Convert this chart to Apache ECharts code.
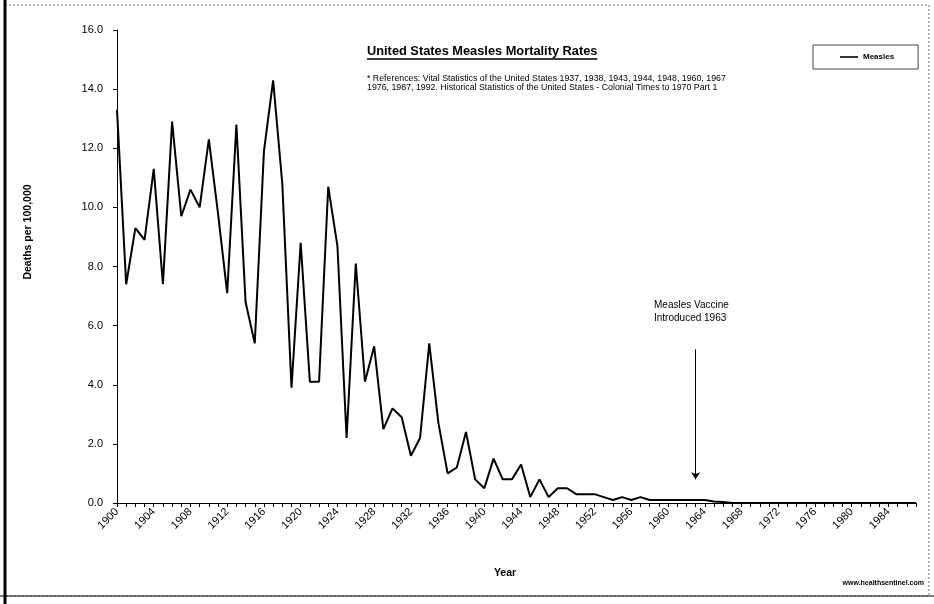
<!DOCTYPE html>
<html><head><meta charset="utf-8">
<script src="https://cdn.jsdelivr.net/npm/echarts@6/dist/echarts.min.js"></script>
<style>html,body{margin:0;padding:0;background:#fff}#c{width:934px;height:604px}</style>
</head><body><div id="c"></div>
<script>
const years = ['1900','1901','1902','1903','1904','1905','1906','1907','1908','1909',
'1910','1911','1912','1913','1914','1915','1916','1917','1918','1919',
'1920','1921','1922','1923','1924','1925','1926','1927','1928','1929',
'1930','1931','1932','1933','1934','1935','1936','1937','1938','1939',
'1940','1941','1942','1943','1944','1945','1946','1947','1948','1949',
'1950','1951','1952','1953','1954','1955','1956','1957','1958','1959',
'1960','1961','1962','1963','1964','1965','1966','1967','1968','1969',
'1970','1971','1972','1973','1974','1975','1976','1977','1978','1979',
'1980','1981','1982','1983','1984','1985','1986','1987'];
const measles = [13.3,7.4,9.3,8.9,11.3,7.4,12.9,9.7,10.6,10.0,
12.3,9.8,7.1,12.8,6.8,5.4,11.9,14.3,10.8,3.9,
8.8,4.1,4.1,10.7,8.7,2.2,8.1,4.1,5.3,2.5,
3.2,2.9,1.6,2.2,5.4,2.7,1.0,1.2,2.4,0.8,
0.5,1.5,0.8,0.8,1.3,0.2,0.8,0.2,0.5,0.5,
0.3,0.3,0.3,0.2,0.1,0.2,0.1,0.2,0.1,0.1,
0.1,0.1,0.1,0.1,0.1,0.05,0.03,0,0,0,
0,0,0,0,0,0,0,0,0,0,
0,0,0,0,0,0,0,0];
const yTicks = [0,2,4,6,8,10,12,14,16];
const titleText = 'United States Measles Mortality Rates';
const refLines = ['* References: Vital Statistics of the United States 1937, 1938, 1943, 1944, 1948, 1960, 1967',
                  '1976, 1987, 1992. Historical Statistics of the United States - Colonial Times to 1970 Part 1'];
const vaccineYear = '1963';
const vaccineNote = ['Measles Vaccine','Introduced 1963'];
const arrowFrom = 5.2, arrowTo = 0.8;

const FONT = '"Liberation Sans", Arial, sans-serif';
function textW(t, f){const c=document.createElement('canvas').getContext('2d');c.font=f;return c.measureText(t).width;}
const titleFont = 'bold 12.8px "Liberation Sans"';
const tW = textW(titleText, titleFont);

const chart = echarts.init(document.getElementById('c'), null, {renderer:'canvas'});
chart.setOption({
  animation:false,
  backgroundColor:'#fff',
  grid:{left:117, right:18, top:30, bottom:101, containLabel:false},
  legend:{data:[{name:'Measles', icon:'rect'}], left:813, top:45, padding:[8,24,8,27], borderColor:'#444', borderWidth:1,
    itemWidth:18, itemHeight:1.6, itemGap:4,
    textStyle:{fontSize:8, fontWeight:'bold', color:'#000', fontFamily:FONT}},
  xAxis:{type:'category', data:years, boundaryGap:false,
    axisLine:{lineStyle:{color:'#000', width:1}},
    axisTick:{show:true, interval:0, length:4, lineStyle:{color:'#000'}},
    axisLabel:{interval:3, rotate:45, fontSize:11, color:'#000', margin:7, fontFamily:FONT},
    splitLine:{show:false}},
  yAxis:{type:'value', min:yTicks[0], max:yTicks[yTicks.length-1], interval:2,
    axisLine:{show:true, lineStyle:{color:'#000'}},
    axisTick:{show:true, length:4, lineStyle:{color:'#000'}},
    axisLabel:{formatter:v=>v.toFixed(1), fontSize:11, color:'#000', margin:14, fontFamily:FONT},
    splitLine:{show:false}},
  series:[{name:'Measles', type:'line', data:measles, symbol:'none',
    lineStyle:{color:'#000', width:2}, itemStyle:{color:'#000'},
    markLine:{silent:true, symbol:['none','arrow'], symbolSize:7, label:{show:false},
      lineStyle:{color:'#000', width:1, type:'solid'},
      data:[[{coord:[vaccineYear, arrowFrom]},{coord:[vaccineYear, arrowTo]}]]}}],
  graphic:[
    {type:'rect', shape:{x:5, y:5, width:924, height:591}, style:{fill:'none', stroke:'#777', lineWidth:1, lineDash:[2,2]}, silent:true},
    {type:'line', shape:{x1:5, y1:0, x2:5, y2:604}, style:{stroke:'#000', lineWidth:3}, silent:true},
    {type:'line', shape:{x1:0, y1:596, x2:934, y2:596}, style:{stroke:'#000', lineWidth:1}, silent:true},
    {type:'text', left:367, top:45, style:{text:titleText, font:titleFont, fill:'#000'}},
    {type:'line', shape:{x1:367, y1:59, x2:367+tW, y2:59}, style:{stroke:'#000', lineWidth:1.3}},
    {type:'text', left:367, top:74, style:{text:refLines.join('\n'), font:'8.8px "Liberation Sans"', lineHeight:9, fill:'#000'}},
    {type:'text', x:28, y:232, rotation:Math.PI/2, style:{text:'Deaths per 100,000', font:'bold 10.5px "Liberation Sans"', fill:'#000', textAlign:'center', textVerticalAlign:'middle'}},
    {type:'text', x:505, y:573, style:{text:'Year', font:'bold 10.5px "Liberation Sans"', fill:'#000', textAlign:'center', textVerticalAlign:'middle'}},
    {type:'text', left:654, top:299, style:{text:vaccineNote.join('\n'), font:'10px "Liberation Sans"', lineHeight:13, fill:'#000'}},
    {type:'text', x:924, y:583, style:{text:'www.healthsentinel.com', font:'bold 7px "Liberation Sans"', fill:'#000', textAlign:'right', textVerticalAlign:'middle'}}
  ]
});
</script></body></html>
